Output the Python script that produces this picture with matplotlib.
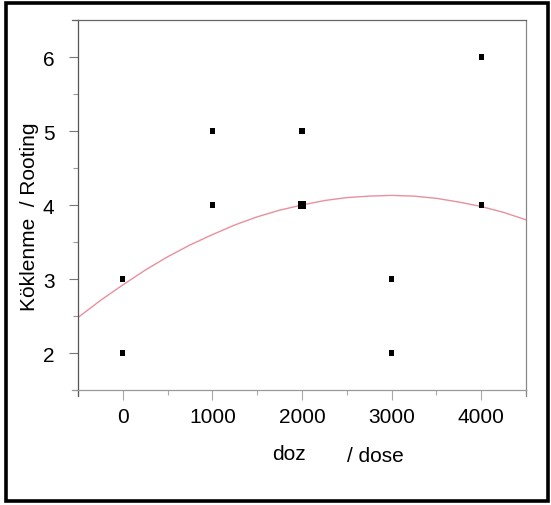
import matplotlib
matplotlib.use("Agg")
import matplotlib.pyplot as plt
from matplotlib.patches import Rectangle
from matplotlib.ticker import MultipleLocator

# observed points (dose, rooting score, number of overlapping observations)
dose = [0, 0, 1000, 1000, 2000, 2000, 3000, 3000, 4000, 4000]
rooting = [2, 3, 4, 5, 4, 5, 2, 3, 4, 6]
count = [1, 1, 1, 1, 2, 1, 1, 1, 1, 1]

# fitted curve
fit_dose = [-500, -250, 0, 250, 500, 750, 1000, 1250, 1500, 1750, 2000,
            2250, 2500, 2750, 3000, 3250, 3500, 3750, 4000, 4250, 4500]
fit_rooting = [2.48, 2.71, 2.92, 3.12, 3.30, 3.46, 3.60, 3.73, 3.84, 3.93, 4.00,
               4.06, 4.10, 4.12, 4.13, 4.12, 4.09, 4.04, 3.98, 3.90, 3.80]

plt.rcParams["font.family"] = ["Liberation Sans", "DejaVu Sans"]

W, H = 551, 506
fig = plt.figure(figsize=(W / 100, H / 100), dpi=100)
fig.patch.set_facecolor("white")

# outer black frame
fig.patches.append(Rectangle((6 / W, 4 / H), 542 / W, 498 / H, transform=fig.transFigure,
                             fill=False, edgecolor="black", linewidth=2.6))

ax = fig.add_axes([78 / W, 115 / H, 448 / W, 370 / H])
ax.set_xlim(-500, 4500)
ax.set_ylim(1.5, 6.5)

ax.plot(fit_dose, fit_rooting, color="#e8909d", linewidth=1.0, zorder=2)
sizes = [14 if c == 1 else 40 for c in count]
ax.scatter(dose, rooting, s=sizes, marker="s", color="black", linewidths=0, zorder=3)

ax.xaxis.set_minor_locator(MultipleLocator(500))
ax.yaxis.set_minor_locator(MultipleLocator(0.5))
ax.set_xticks([0, 1000, 2000, 3000, 4000])
ax.set_yticks([2, 3, 4, 5, 6])

ax.tick_params(axis="x", which="major", length=7.2, width=0.8, color="#aaaaaa",
               pad=5, labelsize=15)
ax.tick_params(axis="x", which="minor", length=3.6, width=0.8, color="#aaaaaa")
ax.tick_params(axis="y", which="major", length=6.5, width=0.8, color="#777777",
               pad=10.5, labelsize=15)
ax.tick_params(axis="y", which="minor", length=3.6, width=0.8, color="#999999")

ax.spines["left"].set_color("#555555")
ax.spines["top"].set_color("#666666")
ax.spines["right"].set_color("#888888")
ax.spines["bottom"].set_color("#999999")
for s in ax.spines.values():
    s.set_linewidth(0.9)

# small frame overhangs at the corners
ext_x = 6 / 448
ext_y = 6 / 370
ax.plot([0, 0], [0, -ext_y], transform=ax.transAxes, clip_on=False, color="#555555", lw=0.9)
ax.plot([1, 1], [0, -ext_y], transform=ax.transAxes, clip_on=False, color="#888888", lw=0.9)
ax.plot([-ext_x, 0], [0, 0], transform=ax.transAxes, clip_on=False, color="#999999", lw=0.9)
ax.plot([-ext_x, 0], [1, 1], transform=ax.transAxes, clip_on=False, color="#666666", lw=0.9)

fig.text(30 / W, 1 - 217 / H, "Köklenme  / Rooting", rotation=90, fontsize=15,
         ha="center", va="center")
fig.text(289 / W, 1 - 454 / H, "doz", fontsize=15, ha="center", va="center")
fig.text(375 / W, 1 - 457 / H, "/ dose", fontsize=15, ha="center", va="center")

fig.savefig("out.png", dpi=100)
